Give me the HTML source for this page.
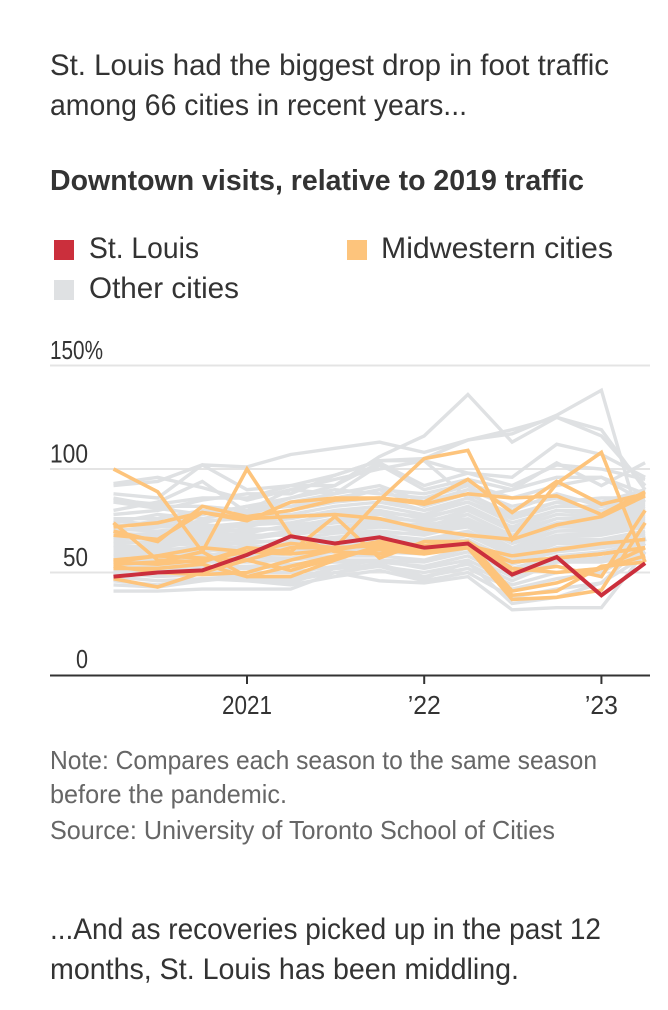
<!DOCTYPE html>
<html lang="en">
<head>
<meta charset="utf-8">
<title>Downtown visits, relative to 2019 traffic</title>
<style>
html,body{margin:0;padding:0;background:#fff;}
svg{display:block;}
text{font-family:"Liberation Sans",sans-serif;fill:#333;}
.body{font-size:30px;}
.legend{font-size:30px;}
.note{font-size:26px;fill:#666;}
.tick{font-size:26px;}
</style>
</head>
<body>
<svg id="page" width="668" height="1010" viewBox="0 0 668 1010" xmlns="http://www.w3.org/2000/svg">
  <rect x="0" y="0" width="668" height="1010" fill="#fff"/>
  <text class="body" x="50" y="75" textLength="559" lengthAdjust="spacingAndGlyphs">St. Louis had the biggest drop in foot traffic</text>
  <text class="body" x="50" y="115" textLength="417" lengthAdjust="spacingAndGlyphs">among 66 cities in recent years...</text>
  <text x="50" y="190" font-size="29" font-weight="700" textLength="534" lengthAdjust="spacingAndGlyphs">Downtown visits, relative to 2019 traffic</text>

  <g>
    <rect x="54" y="240" width="20" height="20" fill="#cb2f3c"/>
    <text class="legend" x="89" y="258" textLength="110" lengthAdjust="spacingAndGlyphs">St. Louis</text>
    <rect x="347" y="240" width="20" height="20" fill="#fdc47c"/>
    <text class="legend" x="381" y="258" textLength="232" lengthAdjust="spacingAndGlyphs">Midwestern cities</text>
    <rect x="54" y="280" width="20" height="20" fill="#dfe1e3"/>
    <text class="legend" x="89" y="298" textLength="150" lengthAdjust="spacingAndGlyphs">Other cities</text>
  </g>

  <g id="plot"></g>

  <text class="note" x="50" y="769" textLength="547" lengthAdjust="spacingAndGlyphs">Note: Compares each season to the same season</text>
  <text class="note" x="50" y="803" textLength="237" lengthAdjust="spacingAndGlyphs">before the pandemic.</text>
  <text class="note" x="50" y="839" textLength="505" lengthAdjust="spacingAndGlyphs">Source: University of Toronto School of Cities</text>

  <text class="body" x="50" y="939" textLength="551" lengthAdjust="spacingAndGlyphs">...And as recoveries picked up in the past 12</text>
  <text class="body" x="50" y="979" textLength="469" lengthAdjust="spacingAndGlyphs">months, St. Louis has been middling.</text>
</svg>
<script>
var seasonDates = ['2020-04-01','2020-07-01','2020-10-01','2021-01-01','2021-04-01','2021-07-01','2021-10-01','2022-01-01','2022-04-01','2022-07-01','2022-10-01','2023-01-01','2023-04-01'];
var yTicks = [0, 50, 100, 150];
var yTickLabels = ['0', '50', '100', '150%'];
var xTickDates = ['2021-01-01', '2022-01-01', '2023-01-01'];
var xTickLabels = ['2021', '\u201922', '\u201923'];
var stLouis = [48,50,51,58.5,67.5,64,67,62,64,49,57.5,39,54.5];
var midwesternCities = [
  [100,89,60,48,48,56,63,62,63,50,53,48,80],
  [54,55,60,100,68,60,59,63,64,55,57,59,62],
  [72,74,79,75,84,86,86,84,95,79,94,83,88],
  [70,65,82,77,80,85,86,83,88,86,87,78,89],
  [74,56,55,62,60,77,57,65,65,52,50,52,58],
  [68,66,79,76,77,78,76,71,68,66,73,77,87],
  [55,58,62,60,64,62,85,105,109,66,93,108,55],
  [55,54,56,60,59,61,65,63,65,41,45,52,62],
  [53,50,49,50,56,61,64,62,63,39,41,53,55],
  [47,43,50,56,51,57,62,60,62,37,38,41.5,74],
  [56,58,57,56,62,62,63,60,63,58,61,64,66],
  [52,52,54,48,53,58,61,59,62,55,57,59,62]
];
var otherCities = [
  [76,76,80,78,84,88,92,84,90,82,86,84,90],
  [75,73,78,82,86,90,88,86,92,80,88,82,88],
  [74,78,76,80,82,85,90,82,88,78,84,86,86],
  [73,72,75,76,80,84,86,80,86,77,84,80,85],
  [72,75,74,78,78,82,84,80,84,76,82,82,84],
  [71,70,72,74,76,80,82,78,84,74,80,80,83],
  [70,72,73,72,77,79,80,76,82,72,80,78,82],
  [69,68,70,73,74,78,79,77,81,71,78,77,81],
  [68,69,71,70,72,76,78,74,80,70,76,76,80],
  [67,66,68,69,73,75,76,75,78,68,76,75,79],
  [66,67,69,71,71,74,75,72,78,67,74,74,78],
  [65,64,66,67,70,72,74,73,76,66,73,73,77],
  [64,65,67,68,68,71,73,71,75,65,72,72,76],
  [63,62,65,66,69,70,72,70,74,64,70,71,75],
  [62,63,64,64,66,69,70,68,73,62,70,70,74],
  [61,61,62,65,65,67,69,69,72,61,68,69,73],
  [60,60,63,62,64,66,68,66,70,60,67,68,72],
  [59,58,60,63,62,65,66,65,69,59,66,66,70],
  [58,59,61,60,63,63,65,63,68,58,65,65,69],
  [57,56,58,61,60,62,64,62,66,56,64,64,68],
  [56,57,59,58,59,60,62,60,65,55,62,63,66],
  [55,55,56,57,57,60,60,59,63,54,60,62,65],
  [54,53,55,55,56,58,58,56,62,52,58,60,64],
  [53,54,53,53,54,56,56,55,60,50,58,57,62],
  [52,51,52,52,53,55,55,53,58,48,56,56,60],
  [51,50,50,50,50,53,56,52,56,46,55,55,59],
  [50,48,49,48,46,50,53,50,54,44,50,52,60],
  [48,46,47,47,45,52,54,48,52,42,47,50,62],
  [46,44,47,46,44,48,51,46,50,38,42,45,64],
  [92,94,102,101,107,110,113,108,114,117,126,138,65],
  [80,84,94,79,86,92,106,116,136,113,125,119,90],
  [88,86,102,90,92,97,104,105,114,119,125,116,92],
  [93,96,91,85,90,95,100,104,98,92,102,100,95],
  [85,83,86,86,92,92,103,92,98,96,112,107,96],
  [86,82,82,80,90,88,102,90,95,90,103,92,103],
  [78,80,85,88,88,97,104,104,86,90,96,96,88],
  [84,81,78,82,82,86,90,88,93,86,92,96,84],
  [41,41,42,42,42,50,46,45,48,32,33,33,60],
  [44,43,46,48,47,52,53,47,55,35,38,45,58]
];

var NS = 'http://www.w3.org/2000/svg';
var plot = document.getElementById('plot');
var DAY = 86400000;
var originTime = Date.parse('2021-01-01');
function dateScale(d) { return 247 + (Date.parse(d) - originTime) / DAY * 0.4855; }
function xScale(i) { return dateScale(seasonDates[i]); }
function yScale(v) { return 676 - v * 2.07; }
function pointsFor(series) {
  return series.map(function (v, i) { return xScale(i).toFixed(1) + ',' + yScale(v).toFixed(1); }).join(' ');
}
function drawSeries(series, color, width, name) {
  var line = document.createElementNS(NS, 'polyline');
  line.setAttribute('points', pointsFor(series));
  line.setAttribute('fill', 'none');
  line.setAttribute('stroke', color);
  line.setAttribute('stroke-width', width);
  line.setAttribute('stroke-linejoin', 'miter');
  
  
  plot.appendChild(line);
}

yTicks.forEach(function (t, i) {
  if (t !== 0) {
    var grid = document.createElementNS(NS, 'line');
    grid.setAttribute('x1', 50);
    grid.setAttribute('x2', 650);
    grid.setAttribute('y1', yScale(t));
    grid.setAttribute('y2', yScale(t));
    grid.setAttribute('stroke', '#e4e4e4');
    grid.setAttribute('stroke-width', 2);
    
    
    plot.appendChild(grid);
  }
  var label = document.createElementNS(NS, 'text');
  label.setAttribute('class', 'tick');
  label.setAttribute('x', t === 150 ? 50 : 88);
  label.setAttribute('y', yScale(t) - (t === 0 ? 8 : 6.5));
  label.setAttribute('text-anchor', t === 150 ? 'start' : 'end');
  label.setAttribute('textLength', [12, 25, 38, 53][i]);
  label.setAttribute('lengthAdjust', 'spacingAndGlyphs');
  
  
  label.textContent = yTickLabels[i];
  plot.appendChild(label);
});

otherCities.forEach(function (s) {
  drawSeries(s, '#dfe1e3', 3.4, 'other-city-line');
});
midwesternCities.forEach(function (s) {
  drawSeries(s, '#fdc47c', 3.6, 'midwestern-city-line');
});
drawSeries(stLouis, '#cb2f3c', 4, 'st-louis-line');

var axis = document.createElementNS(NS, 'line');
axis.setAttribute('x1', 50);
axis.setAttribute('x2', 650);
axis.setAttribute('y1', 675.5);
axis.setAttribute('y2', 675.5);
axis.setAttribute('stroke', '#333');
axis.setAttribute('stroke-width', 2);


plot.appendChild(axis);

xTickDates.forEach(function (d, i) {
  var tick = document.createElementNS(NS, 'line');
  tick.setAttribute('x1', dateScale(d));
  tick.setAttribute('x2', dateScale(d));
  tick.setAttribute('y1', 675);
  tick.setAttribute('y2', 684);
  tick.setAttribute('stroke', '#333');
  tick.setAttribute('stroke-width', 2);
  
  
  plot.appendChild(tick);
  var label = document.createElementNS(NS, 'text');
  label.setAttribute('class', 'tick');
  label.setAttribute('x', dateScale(d));
  label.setAttribute('y', 714);
  label.setAttribute('text-anchor', 'middle');
  label.setAttribute('textLength', i === 0 ? 50 : 33);
  label.setAttribute('lengthAdjust', 'spacingAndGlyphs');
  
  
  label.textContent = xTickLabels[i];
  plot.appendChild(label);
});
</script>
</body>
</html>
